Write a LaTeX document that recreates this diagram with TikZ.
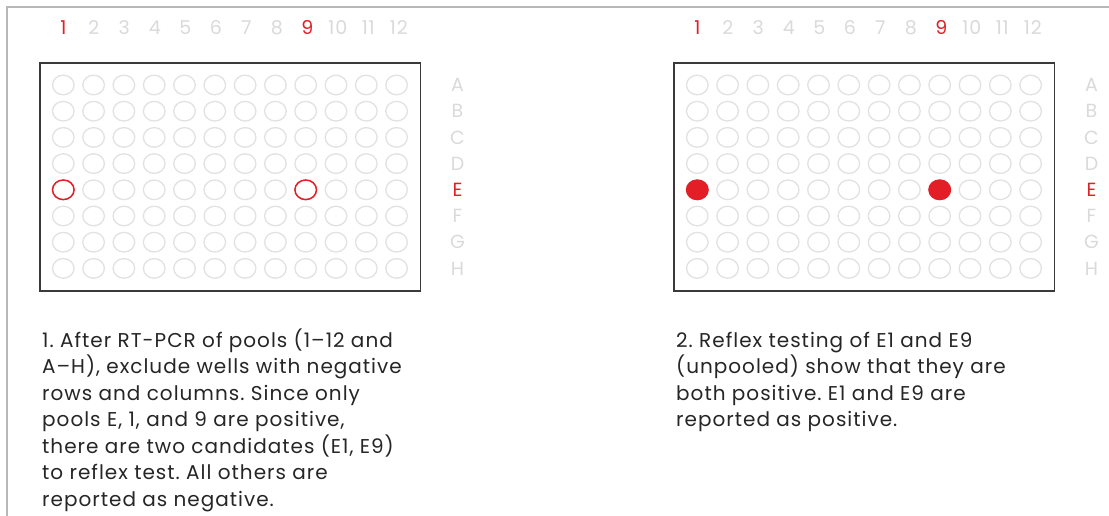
\documentclass[tikz,border=0pt]{standalone}
\usepackage{fontspec}
\setmainfont{Poppins}
\newfontfamily\capfont[LetterSpace=5]{Poppins}
\newfontfamily\labfont[LetterSpace=4]{Poppins}
\definecolor{wellgrey}{HTML}{E2E2E2}
\definecolor{labgrey}{HTML}{DADADA}
\definecolor{posred}{HTML}{E41E26}
\definecolor{platedark}{HTML}{3A3A3A}
\definecolor{outergrey}{HTML}{B8B8B8}
\tikzset{
  well/.style={draw=wellgrey, line width=1.3pt},
  colnum/.style={font=\labfont\fontsize{19}{19}\selectfont, text=labgrey, inner sep=0pt},
  rowlab/.style={font=\labfont\fontsize{19}{19}\selectfont, text=labgrey, inner sep=0pt},
  plate/.style={draw=platedark, line width=1.6pt},
  caption/.style={anchor=base west, inner sep=0pt, text=black!85}
}
\begin{document}
\begin{tikzpicture}[x=1pt,y=-1pt]
\useasboundingbox (0,0) rectangle (1109,516);
\clip (0,0) rectangle (1109,516);
\fill[white] (0,0) rectangle (1109,516);
\draw[outergrey, line width=2pt] (7,540) -- (7,7) -- (1130,7);
\foreach \p/\ox in {L/0, R/634} {
  \draw[plate] (40+\ox,63) rectangle (420.5+\ox,291);
  \foreach \c in {1,...,12} {
    \foreach \r in {1,...,8} {
      \draw[well] (63.3+\c*30.3-30.3+\ox, 85+\r*26.2-26.2) ellipse [x radius=10.8, y radius=9.8];
    }
    \node[colnum] (col-\p-\c) at (63.3+\c*30.5-30.5+\ox, 28) {\c};
  }
  \foreach \l/\r in {A/1,B/2,C/3,D/4,E/5,F/6,G/7,H/8} {
    \node[rowlab] (row-\p-\l) at (457.5+\ox, 85+\r*26.2-26.2) {\l};
  }
  \node[colnum, text=posred, fill=white] at (col-\p-1) {1};
  \node[colnum, text=posred, fill=white] at (col-\p-9) {9};
  \node[rowlab, text=posred, fill=white] at (row-\p-E) {E};
}
% positive candidates (left plate)
\draw[posred, line width=1.5pt] (63.3,189.8) ellipse [x radius=10.8, y radius=9.8];
\draw[posred, line width=1.5pt] (63.3+8*30.3,189.8) ellipse [x radius=10.8, y radius=9.8];
% confirmed positives (right plate)
\fill[posred] (63.3+634,189.8) ellipse [x radius=11.5, y radius=10.5];
\fill[posred] (63.3+8*30.3+634,189.8) ellipse [x radius=11.5, y radius=10.5];
\node[caption] (cap1) at (42,347) {\parbox[t]{420pt}{\capfont\fontsize{20}{26.5}\selectfont\raggedright\frenchspacing
1. After RT-PCR of pools (1–12 and\\
A–H), exclude wells with negative\\
rows and columns. Since only\\
pools E, 1, and 9 are positive,\\
there are two candidates (E1, E9)\\
to reflex test. All others are\\
reported as negative.}};
\node[caption] (cap2) at (676,347) {\parbox[t]{420pt}{\capfont\fontsize{20}{26.5}\selectfont\raggedright\frenchspacing
2. Reflex testing of E1 and E9\\
(unpooled) show that they are\\
both positive. E1 and E9 are\\
reported as positive.}};
\end{tikzpicture}
\end{document}
